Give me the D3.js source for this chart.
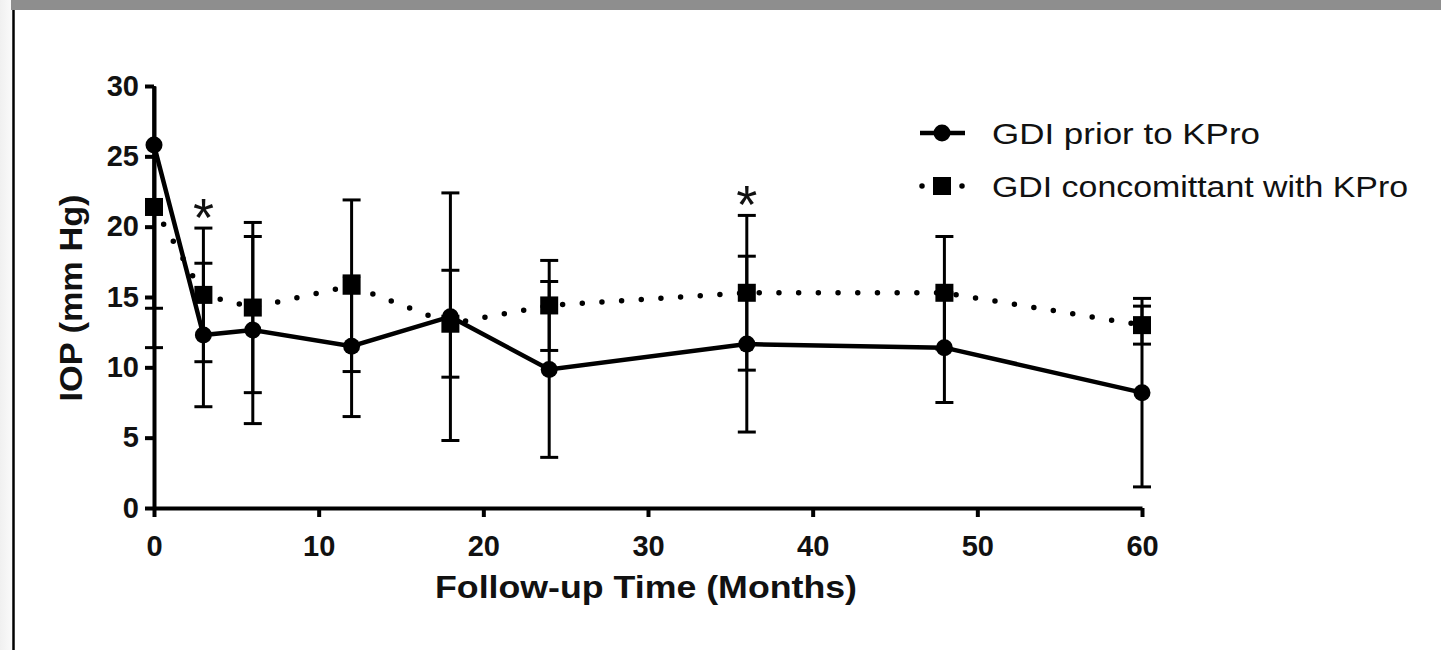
<!DOCTYPE html>
<html>
<head>
<meta charset="utf-8">
<script src="https://cdn.jsdelivr.net/npm/d3@7"></script>
<style>
  body { margin: 0; background: #ffffff; }
  svg { display: block; }
  .tick text { font-family: "Liberation Sans", Arial, sans-serif; font-weight: bold; font-size: 29px; fill: #111; }
  .axisTitle { font-family: "Liberation Sans", Arial, sans-serif; font-weight: bold; fill: #111; }
  .legendText { font-family: "Liberation Sans", Arial, sans-serif; font-size: 29px; fill: #111; }
</style>
</head>
<body>
<div id="chart"></div>
<script>
// follow-up months
var months = [0, 3, 6, 12, 18, 24, 36, 48, 60];

// GDI prior to KPro (mean and error)
var priorMean = [25.8, 12.3, 12.65, 11.5, 13.6, 9.85, 11.65, 11.4, 8.2];
var priorErr = [11.6, 5.1, 6.65, 5.0, 8.8, 6.25, 6.25, 3.9, 6.7];

// GDI concomittant with KPro
var concMean = [21.4, 15.15, 14.25, 15.8, 13.1, 14.4, 15.3, 15.3, 13.0];
var concErr = [10.0, 4.75, 6.05, 6.1, 3.8, 3.2, 5.5, 4.0, 1.35];

// months marked significant
var starMonths = [3, 36];

var yTicks = [0, 5, 10, 15, 20, 25, 30];
var xTicks = [0, 10, 20, 30, 40, 50, 60];

var seriesNames = ["GDI prior to KPro", "GDI concomittant with KPro"];

var Width = 1441;
var Height = 650;

var svg = d3.select("#chart")
  .append("svg")
  .attr("width", Width)
  .attr("height", Height);

// page frame around the figure
var grad = svg.append("defs").append("linearGradient").attr("id", "edge");
grad.append("stop").attr("offset", "0%").attr("stop-color", "#f0f0f0");
grad.append("stop").attr("offset", "100%").attr("stop-color", "#fafafa");
svg.append("rect").attr("x", 0).attr("y", 0).attr("width", 12).attr("height", Height).attr("fill", "url(#edge)");
svg.append("rect").attr("x", 11).attr("y", 0).attr("width", Width - 11).attr("height", 10).attr("fill", "#8e8e8e");
svg.append("line").attr("x1", 13.5).attr("x2", 13.5).attr("y1", 10).attr("y2", Height)
  .attr("stroke", "#000").attr("stroke-width", 2.5);

var x = d3.scaleLinear().domain([0, 60]).range([154, 1142]);
var y = d3.scaleLinear().domain([0, 30]).range([508, 86]);

var xAxis = d3.axisBottom(x).tickValues(xTicks).tickSize(9).tickSizeOuter(0).tickPadding(18);
var yAxis = d3.axisLeft(y).tickValues(yTicks).tickSize(9).tickSizeOuter(0).tickPadding(6);

var gx = svg.append("g")
  .attr("transform", "translate(0," + y(0) + ")")
  .call(xAxis);
var gy = svg.append("g")
  .attr("transform", "translate(" + x(0) + ",0)")
  .call(yAxis);

[gx, gy].forEach(function(g) {
  g.select(".domain").attr("stroke", "#000").attr("stroke-width", 4);
  g.selectAll(".tick line").attr("stroke", "#000").attr("stroke-width", 4);
});

// axis titles
svg.append("text")
  .attr("class", "axisTitle")
  .attr("x", 646)
  .attr("y", 598)
  .attr("text-anchor", "middle")
  .attr("font-size", 31)
  .attr("textLength", 422)
  .attr("lengthAdjust", "spacingAndGlyphs")
  .text("Follow-up Time (Months)");

svg.append("text")
  .attr("class", "axisTitle")
  .attr("transform", "translate(82,298) rotate(-90)")
  .attr("text-anchor", "middle")
  .attr("font-size", 32)
  .attr("textLength", 207)
  .attr("lengthAdjust", "spacingAndGlyphs")
  .text("IOP (mm Hg)");

// build rows for each series
function rows(means, errs) {
  return months.map(function(m, i) {
    return { m: m, v: means[i], e: errs[i] };
  });
}
var prior = rows(priorMean, priorErr);
var conc = rows(concMean, concErr);

var capHalf = 9;
var plot = svg.append("g");

// error bars, clipped to the axis range
function errorBars(data) {
  var g = plot.append("g").attr("stroke", "#000").attr("stroke-width", 3);
  data.forEach(function(d) {
    var top = Math.min(d.v + d.e, 30);
    var bot = Math.max(d.v - d.e, 0);
    g.append("line")
      .attr("x1", x(d.m)).attr("x2", x(d.m))
      .attr("y1", y(top)).attr("y2", y(bot));
    if (d.v + d.e <= 30) {
      g.append("line")
        .attr("x1", x(d.m) - capHalf).attr("x2", x(d.m) + capHalf)
        .attr("y1", y(top)).attr("y2", y(top));
    }
    g.append("line")
      .attr("x1", x(d.m) - capHalf).attr("x2", x(d.m) + capHalf)
      .attr("y1", y(bot)).attr("y2", y(bot));
  });
}
errorBars(conc);
errorBars(prior);

var line = d3.line()
  .x(function(d) { return x(d.m); })
  .y(function(d) { return y(d.v); });

// dotted series
plot.append("path")
  .datum(conc)
  .attr("d", line)
  .attr("fill", "none")
  .attr("stroke", "#000")
  .attr("stroke-width", 5.5)
  .attr("stroke-linecap", "round")
  .attr("stroke-dasharray", "0,19.7");

// solid series
plot.append("path")
  .datum(prior)
  .attr("d", line)
  .attr("fill", "none")
  .attr("stroke", "#000")
  .attr("stroke-width", 4.5);

var sq = 18;
plot.selectAll("rect.conc")
  .data(conc)
  .enter()
  .append("rect")
  .attr("class", "conc")
  .attr("x", function(d) { return x(d.m) - sq / 2; })
  .attr("y", function(d) { return y(d.v) - sq / 2; })
  .attr("width", sq)
  .attr("height", sq)
  .attr("fill", "#000");

plot.selectAll("circle.prior")
  .data(prior)
  .enter()
  .append("circle")
  .attr("class", "prior")
  .attr("cx", function(d) { return x(d.m); })
  .attr("cy", function(d) { return y(d.v); })
  .attr("r", 8.5)
  .attr("fill", "#000");

// significance stars above the highest cap
starMonths.forEach(function(m) {
  var i = months.indexOf(m);
  var top = Math.max(priorMean[i] + priorErr[i], concMean[i] + concErr[i]);
  svg.append("text")
    .attr("x", x(m))
    .attr("y", y(top) + 8)
    .attr("text-anchor", "middle")
    .attr("font-family", "Liberation Sans, Arial, sans-serif")
    .attr("font-size", 54)
    .attr("fill", "#111")
    .text("*");
});

// legend
var legend = svg.append("g");
legend.append("line")
  .attr("x1", 920).attr("x2", 965).attr("y1", 133).attr("y2", 133)
  .attr("stroke", "#000").attr("stroke-width", 4.5);
legend.append("circle").attr("cx", 942).attr("cy", 133).attr("r", 8.5).attr("fill", "#000");
legend.append("line")
  .attr("x1", 922).attr("x2", 964).attr("y1", 186).attr("y2", 186)
  .attr("stroke", "#000").attr("stroke-width", 5.5)
  .attr("stroke-linecap", "round")
  .attr("stroke-dasharray", "0,20");
legend.append("rect").attr("x", 942 - sq / 2).attr("y", 186 - sq / 2)
  .attr("width", sq).attr("height", sq).attr("fill", "#000");

legend.append("text")
  .attr("class", "legendText")
  .attr("x", 992).attr("y", 144)
  .attr("textLength", 268)
  .attr("lengthAdjust", "spacingAndGlyphs")
  .text(seriesNames[0]);
legend.append("text")
  .attr("class", "legendText")
  .attr("x", 992).attr("y", 197)
  .attr("textLength", 416)
  .attr("lengthAdjust", "spacingAndGlyphs")
  .text(seriesNames[1]);
</script>
</body>
</html>
